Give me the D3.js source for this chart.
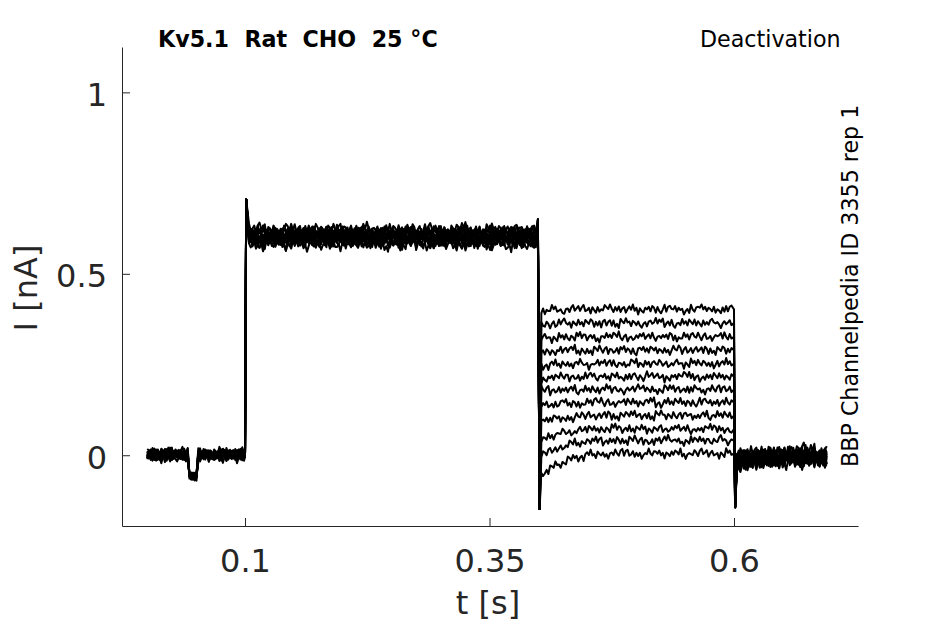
<!DOCTYPE html>
<html>
<head>
<meta charset="utf-8">
<script src="https://cdn.jsdelivr.net/npm/d3@7"></script>
<style>
  body { margin: 0; background: #fff; }
  svg { display: block; font-family: "DejaVu Sans", sans-serif; }
</style>
</head>
<body>
<svg id="chart"></svg>
<script>
const WIDTH = 945;
const HEIGHT = 624;
const MARGIN = { left: 122, right: 87, top: 47, bottom: 98 };

// axis ticks
const xTicks = [0.1, 0.35, 0.6];
const xTickLabels = ["0.1", "0.35", "0.6"];
const yTicks = [0, 0.5, 1];
const yTickLabels = ["0", "0.5", "1"];

// protocol timing (s)
const stepTimes = [0, 0.1, 0.4, 0.6, 0.695];

// per sweep levels (nA), 12 sweeps
const baseLevels   = [0.004, -0.004, 0.006, 0.000, -0.003, 0.005, 0.001, -0.005, 0.003, -0.002, 0.004, 0.000];
const actLevels    = [0.616, 0.594, 0.606, 0.584, 0.622, 0.600, 0.590, 0.610, 0.597, 0.580, 0.603, 0.613];
const deactLevels  = [0.402, 0.364, 0.326, 0.289, 0.252, 0.216, 0.181, 0.145, 0.109, 0.072, 0.040, 0.004];
const deactStart   = [0.398, 0.360, 0.322, 0.285, 0.247, 0.212, 0.176, 0.136, 0.090, 0.042, -0.004, -0.058];
const tailStart    = [-0.016, -0.008, -0.024, -0.012, -0.004, -0.028, -0.020, -0.006, -0.022, -0.010, -0.030, -0.002];
const tailLevels   = [-0.008, 0.004, -0.014, -0.004, 0.006, -0.018, -0.010, 0.001, -0.012, -0.002, -0.016, 0.008];

// transients (nA)
const capPeak = 0.705;
const offPeak = 0.650;
const offDip = -0.148;
const tailDip = -0.143;
const dipWindow = [0.042, 0.052];
const dipLevel = -0.058;

// relaxation of the tail current after the step to the deactivation potential
const relaxShape = [1, 0.93, 0.86, 0.8, 0.74, 0.68, 0.63, 0.58, 0.54, 0.5, 0.46, 0.42, 0.39, 0.36, 0.33, 0.3, 0.28, 0.25, 0.23,
  0.21, 0.19, 0.17, 0.15, 0.13, 0.12, 0.1, 0.09, 0.07, 0.06, 0.05, 0.04, 0.03, 0.02, 0.01, 0];

// recording noise (nA): fast jitter and slower wander
const noise = [0.004, -0.006, 0.009, -0.002, 0.011, -0.008, 0.003, 0.007, -0.010, 0.001, 0.006, -0.004, 0.012, -0.007, 0.002, -0.011,
  0.008, 0.000, -0.005, 0.010, -0.003, 0.005, -0.009, 0.007, 0.002, -0.006, 0.011, -0.001, -0.008, 0.004, 0.009, -0.012, 0.003,
  0.006, -0.004, 0.000, 0.010, -0.007, 0.005, -0.002, 0.008, -0.010, 0.001, 0.007, -0.005, 0.012, -0.003, -0.009, 0.004, 0.006,
  -0.001, 0.009, -0.006, 0.002, -0.011, 0.007, 0.003, -0.004, 0.010, -0.008, 0.005, 0.001, -0.007, 0.011, -0.002, 0.006, -0.010,
  0.004, 0.008, -0.003, -0.006, 0.009, 0.002, -0.009, 0.005, 0.012, -0.005, 0.000, 0.007, -0.008, 0.003, 0.010, -0.004, -0.001,
  0.006, -0.011, 0.008, 0.002, -0.006, 0.011, -0.003, 0.004, -0.009, 0.007, 0.001, -0.005, 0.009];
const wander = [0.003, -0.004, 0.005, 0.000, -0.006, 0.002, 0.006, -0.002, -0.005, 0.004, 0.001, -0.003, 0.005, -0.006, 0.002,
  0.004, -0.001, -0.004, 0.006, -0.002, 0.000, 0.003, -0.005];

const DT = 0.0018;

const svg = d3.select("#chart")
  .attr("width", WIDTH)
  .attr("height", HEIGHT);

const x = d3.scaleLinear()
  .domain([-0.0258, 0.7268])
  .range([MARGIN.left, WIDTH - MARGIN.right]);

const y = d3.scaleLinear()
  .domain([-0.195, 1.125])
  .range([HEIGHT - MARGIN.bottom, MARGIN.top]);

function jitter(i, k, off, amp) {
  return (noise[(k + i * 11 + off) % noise.length] + wander[(Math.floor(k / 5) + i * 5 + off) % wander.length]) * amp;
}

function buildTrace(i) {
  const pts = [];
  d3.range(stepTimes[0], stepTimes[1] - 0.001, DT).forEach((t, k) => {
    let v = baseLevels[i] + jitter(i, k, 0, 1.0);
    if (t >= dipWindow[0] && t <= dipWindow[1]) v = dipLevel + jitter(i, k, 3, 0.7);
    pts.push([t, v]);
  });
  pts.push([stepTimes[1], baseLevels[i]]);
  pts.push([stepTimes[1] + 0.0012, capPeak]);
  d3.range(stepTimes[1] + 0.004, stepTimes[2] - 0.002, DT).forEach((t, k) => {
    pts.push([t, actLevels[i] + jitter(i, k, 31, 1.2)]);
  });
  pts.push([stepTimes[2] - 0.0005, i % 3 === 0 ? offPeak : actLevels[i]]);
  pts.push([stepTimes[2] + 0.0012, offDip]);
  d3.range(stepTimes[2] + 0.003, stepTimes[3] - 0.001, DT).forEach((t, k) => {
    const r = k < relaxShape.length ? relaxShape[k] : 0;
    pts.push([t, deactLevels[i] + (deactStart[i] - deactLevels[i]) * r + jitter(i, k, 57, 0.9)]);
  });
  pts.push([stepTimes[3], deactLevels[i]]);
  pts.push([stepTimes[3] + 0.0012, tailDip]);
  d3.range(stepTimes[3] + 0.003, stepTimes[4] + 0.0005, DT).forEach((t, k) => {
    const r = k < relaxShape.length ? relaxShape[k] : 0;
    pts.push([t, tailLevels[i] + (tailStart[i] - tailLevels[i]) * r + jitter(i, k, 13, 1.5)]);
  });
  return pts;
}

const line = d3.line()
  .x(d => x(d[0]))
  .y(d => y(d[1]));

const traces = d3.range(deactLevels.length).map(buildTrace);

svg.append("g")
  .attr("class", "traces")
  .selectAll("path")
  .data(traces)
  .enter()
  .append("path")
  .attr("d", line)
  .attr("fill", "none")
  .attr("stroke", "#000")
  .attr("stroke-width", 2.0)
  .attr("stroke-linejoin", "round");

// axes, ticks pointing inward
const xAxis = svg.append("g")
  .attr("transform", `translate(0,${HEIGHT - MARGIN.bottom})`)
  .call(d3.axisBottom(x).tickValues(xTicks).tickFormat((d, i) => xTickLabels[i]).tickSize(-8).tickSizeOuter(0));

const yAxis = svg.append("g")
  .attr("transform", `translate(${MARGIN.left},0)`)
  .call(d3.axisLeft(y).tickValues(yTicks).tickFormat((d, i) => yTickLabels[i]).tickSize(-8).tickSizeOuter(0));

[xAxis, yAxis].forEach(g => {
  g.select(".domain").attr("stroke", "#262626").attr("stroke-width", 1);
  g.selectAll(".tick line").attr("stroke", "#262626").attr("stroke-width", 1);
  g.selectAll(".tick text")
    .attr("fill", "#262626")
    .style("font-family", "DejaVu Sans")
    .style("font-size", "32px");
});

xAxis.selectAll(".tick text").attr("y", 46).attr("dy", 0);
yAxis.selectAll(".tick text").attr("x", -15).attr("dy", "0.4em");

svg.append("text")
  .attr("x", (MARGIN.left + WIDTH - MARGIN.right) / 2 - 2)
  .attr("y", 614)
  .attr("text-anchor", "middle")
  .attr("fill", "#262626")
  .style("font-size", "32px")
  .text("t [s]");

svg.append("text")
  .attr("transform", "translate(37,288) rotate(-90)")
  .attr("text-anchor", "middle")
  .attr("fill", "#262626")
  .style("font-size", "32px")
  .text("I [nA]");

svg.append("text")
  .attr("x", 158)
  .attr("y", 46.5)
  .attr("fill", "#000")
  .style("font-size", "22.2px")
  .style("font-weight", "bold")
  .style("white-space", "pre")
  .text("Kv5.1  Rat  CHO  25 °C");

svg.append("text")
  .attr("x", 700)
  .attr("y", 46.5)
  .attr("fill", "#000")
  .style("font-size", "22.2px")
  .text("Deactivation");

svg.append("text")
  .attr("transform", "translate(858,467) rotate(-90)")
  .attr("fill", "#000")
  .style("font-size", "22.2px")
  .text("BBP Channelpedia ID 3355 rep 1");
</script>
</body>
</html>
